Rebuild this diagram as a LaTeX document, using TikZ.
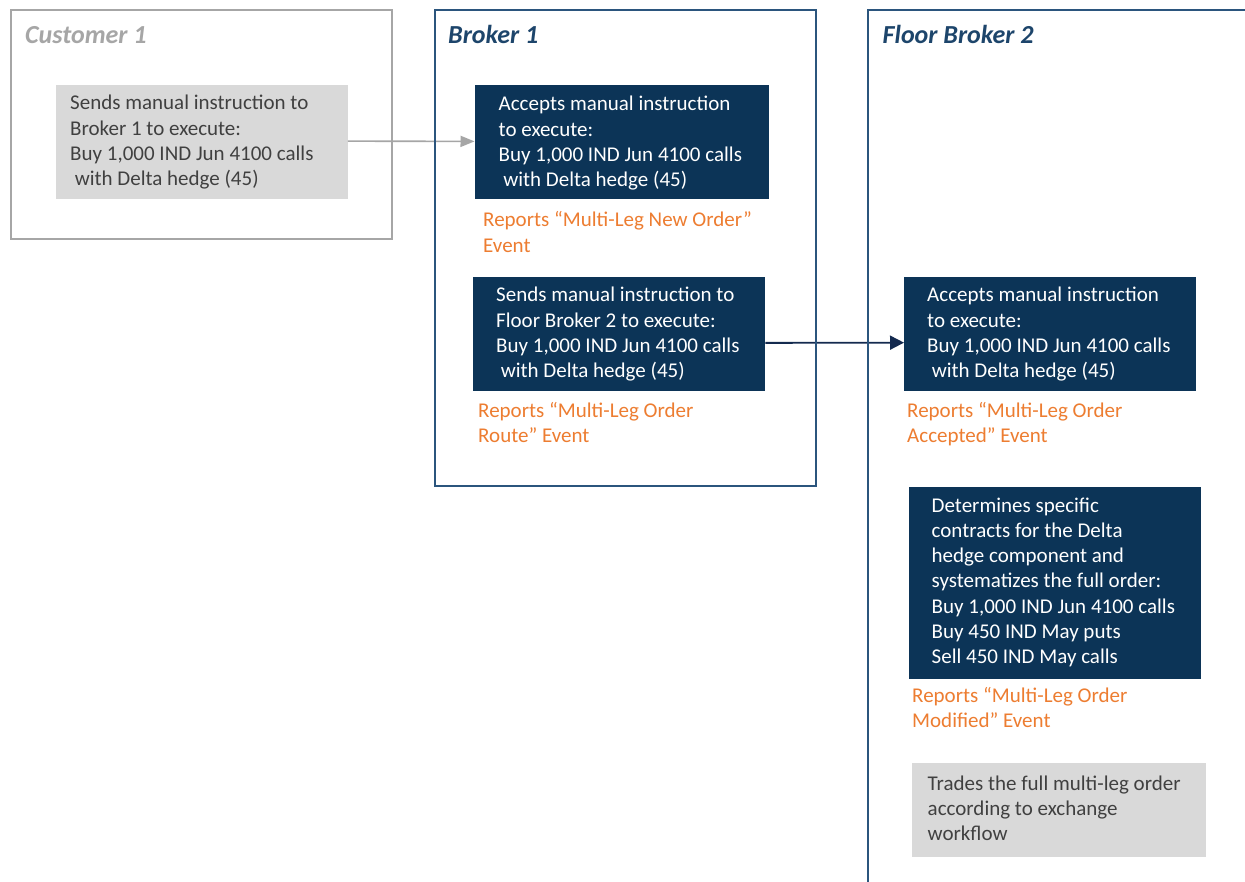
\documentclass[tikz,border=0pt]{standalone}
\usepackage{fontspec}
\setmainfont{Carlito}
\usetikzlibrary{arrows.meta}
\definecolor{navy}{HTML}{0C3457}
\definecolor{arrownavy}{HTML}{142A4F}
\definecolor{frameblue}{HTML}{2B557D}
\definecolor{titleblue}{HTML}{1D456B}
\definecolor{framegray}{HTML}{A6A6A6}
\definecolor{lightgray}{HTML}{D9D9D9}
\definecolor{textgray}{HTML}{404040}
\definecolor{orangetxt}{HTML}{ED7D31}
\begin{document}
\begin{tikzpicture}[x=1pt,y=-1pt,
  frame/.style={draw, line width=2pt, anchor=north west, inner sep=0pt, rectangle},
  navybox/.style={fill=navy, anchor=north west, inner sep=0pt, rectangle},
  graybox/.style={fill=lightgray, anchor=north west, inner sep=0pt, rectangle},
  boxtext/.style={anchor=base west, align=left, inner sep=0pt, font=\fontsize{21}{25.3}\selectfont},
  whitetext/.style={boxtext, text=white},
  darktext/.style={boxtext, text=textgray},
  report/.style={boxtext, text=orangetxt},
  titletext/.style={anchor=base west, inner sep=0pt, font=\fontsize{26}{30}\selectfont\bfseries\itshape},
  garrow/.style={draw=framegray, line width=1.6pt, -{Triangle[length=14pt,width=11pt]}},
  narrow/.style={draw=arrownavy, line width=1.8pt, -{Triangle[length=14pt,width=14pt]}},
]
\useasboundingbox (0,0) rectangle (1245,882);
\fill[white] (0,0) rectangle (1245,882);

% connectors (drawn first so frames lie over them)
\coordinate (dummy) at (0,0);

% boxes
\node[graybox, minimum width=291.5pt, minimum height=113.5pt] (cgray) at (56,85) {};
\node[navybox, minimum width=294pt, minimum height=114pt] (nb1) at (474.5,85) {};
\node[navybox, minimum width=292pt, minimum height=114pt] (nb2) at (473,277) {};
\node[navybox, minimum width=292pt, minimum height=113.5pt] (nb3) at (904,277) {};
\node[navybox, minimum width=292pt, minimum height=191.5pt] (nb4) at (908.5,487) {};
\node[graybox, minimum width=294pt, minimum height=93.5pt] (fgray) at (911.5,763) {};

\draw[garrow] ([yshift=0.8pt]cgray.east) -- ([yshift=0.8pt]nb1.west);
\draw[narrow] ([yshift=-8.7pt]nb2.east) -- ([yshift=-8.7pt]nb3.west);

% frames
\node[frame, draw=framegray, minimum width=381pt, minimum height=229pt] (custframe) at (10,9) {};
\node[frame, draw=frameblue, minimum width=381pt, minimum height=476pt] (b1frame) at (433.5,9) {};
\node[frame, draw=frameblue, minimum width=420pt, minimum height=900pt] (fbframe) at (867,9) {};

% titles
\node[titletext, text=framegray] (custtitle) at (25,43.5) {Customer 1};
\node[titletext, text=titleblue] (b1title) at (448,43.5) {Broker 1};
\node[titletext, text=titleblue] (fbtitle) at (882.5,43.5) {Floor Broker 2};

% box texts (anchor: baseline of last line)
\node[darktext] (cgraytxt) at (70,185.9) {Sends manual instruction to\\Broker 1 to execute:\\Buy 1,000 IND Jun 4100 calls\\\hspace*{0.22em}with Delta hedge (45)};
\node[whitetext] (nb1txt) at (498.5,186.9) {Accepts manual instruction\\to execute:\\Buy 1,000 IND Jun 4100 calls\\\hspace*{0.22em}with Delta hedge (45)};
\node[whitetext] (nb2txt) at (496,377.9) {Sends manual instruction to\\Floor Broker 2 to execute:\\Buy 1,000 IND Jun 4100 calls\\\hspace*{0.22em}with Delta hedge (45)};
\node[whitetext] (nb3txt) at (927,377.9) {Accepts manual instruction\\to execute:\\Buy 1,000 IND Jun 4100 calls\\\hspace*{0.22em}with Delta hedge (45)};
\node[whitetext] (nb4txt) at (931.5,663.8) {Determines specific\\contracts for the Delta\\hedge component and\\systematizes the full order:\\Buy 1,000 IND Jun 4100 calls\\Buy 450 IND May puts\\Sell 450 IND May calls};
\node[darktext] (fgraytxt) at (927.5,840.6) {Trades the full multi-leg order\\according to exchange\\workflow};

% report labels
\node[report] (rep1) at (483,252.3) {Reports “Multi-Leg New Order”\\Event};
\node[report] (rep2) at (478,442.3) {Reports “Multi-Leg Order\\Route” Event};
\node[report] (rep3) at (907,442.3) {Reports “Multi-Leg Order\\Accepted” Event};
\node[report] (rep4) at (912,727.3) {Reports “Multi-Leg Order\\Modified” Event};
\end{tikzpicture}
\end{document}
